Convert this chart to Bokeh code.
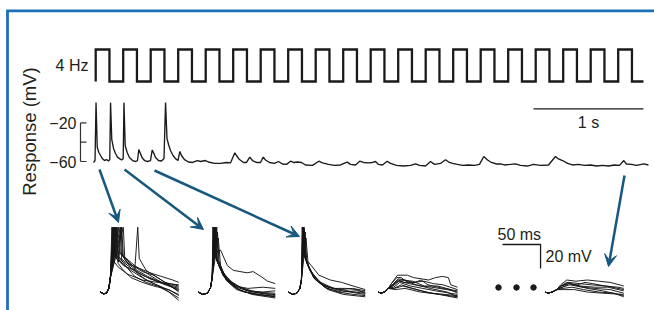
import numpy as np
from bokeh.plotting import figure
from bokeh.models import Range1d, Arrow, VeeHead
from bokeh.core.properties import value
from bokeh.embed import file_html
from bokeh.resources import INLINE

# ------------------------------------------------------------------ data
STIM_LABEL = "4 Hz"
STIM_FREQ_HZ = 4
STIM_CYCLES = 20
STIM_START_S = 0.02
STIM_END_S = 5.0

Y_LABEL = "Response (mV)"
AXIS_TICKS_MV = [-60, -40, -20]
AXIS_TICK_LABELS = ["\u221260", "", "\u221220"]
TIME_SCALE_S = 1.0
TIME_SCALE_LABEL = "1 s"
INSET_SCALE_MS = 50
INSET_SCALE_MV = 20
INSET_SCALE_LABELS = ["50 ms", "20 mV"]

# main recording: (time s, membrane potential mV)
MAIN_TRACE = [
    (0.000, -61), (0.014, -59), (0.023, 1), (0.034, -45.2), (0.048, -50.4), (0.064, -53.8),
    (0.082, -57.2), (0.100, -59), (0.118, -58), (0.136, -59.5), (0.148, -58), (0.155, 1),
    (0.166, -37), (0.182, -46.5), (0.200, -51.7), (0.218, -55.5), (0.236, -57), (0.255, -58.4),
    (0.270, -57), (0.277, 1), (0.288, -43.4), (0.306, -50.7), (0.327, -55.9), (0.355, -59),
    (0.382, -60), (0.400, -59), (0.412, -47.6), (0.423, -50.7), (0.441, -55.9), (0.464, -59),
    (0.491, -60), (0.518, -59), (0.534, -48), (0.545, -50.7), (0.564, -55.9), (0.591, -59),
    (0.618, -59.5), (0.641, -57), (0.655, 1), (0.668, -36), (0.682, -42.4), (0.700, -48.6),
    (0.723, -53.8), (0.745, -57), (0.768, -59), (0.785, -49.6), (0.800, -53.8), (0.827, -58),
    (0.864, -60.5), (0.900, -61), (0.945, -59), (0.973, -60), (1.018, -59), (1.045, -60.5),
    (1.100, -62), (1.155, -62), (1.209, -61), (1.245, -61.5), (1.285, -51), (1.300, -53.8),
    (1.327, -58), (1.364, -61), (1.391, -61), (1.421, -55.5), (1.445, -59), (1.482, -61),
    (1.518, -61), (1.543, -55.5), (1.564, -58.4), (1.600, -61), (1.645, -62), (1.682, -60),
    (1.718, -62.6), (1.755, -63), (1.791, -59.7), (1.818, -61), (1.855, -60.5), (1.891, -61),
    (1.927, -63.6), (1.991, -64), (2.048, -59.7), (2.082, -61.5), (2.136, -63), (2.191, -64),
    (2.245, -63.6), (2.306, -60.7), (2.336, -63), (2.382, -63.6), (2.420, -59.7), (2.455, -61),
    (2.500, -61.5), (2.536, -61), (2.564, -60), (2.591, -63), (2.627, -63.6), (2.670, -59.7),
    (2.700, -62), (2.755, -64), (2.818, -64.7), (2.882, -64), (2.927, -62.4), (2.964, -64),
    (3.018, -64.7), (3.064, -60), (3.100, -63), (3.155, -62), (3.200, -58.2), (3.236, -61),
    (3.264, -62), (3.309, -63), (3.355, -64), (3.409, -63.6), (3.464, -64), (3.509, -63),
    (3.548, -54.8), (3.582, -58.4), (3.618, -61), (3.664, -62.6), (3.700, -62.4), (3.736, -63.6),
    (3.791, -63), (3.836, -62.4), (3.882, -64), (3.945, -64.7), (4.000, -63), (4.064, -64),
    (4.136, -63.6), (4.200, -54.8), (4.227, -57.4), (4.264, -59), (4.309, -62), (4.355, -63.6),
    (4.409, -63), (4.464, -64), (4.518, -63.6), (4.573, -64.7), (4.627, -64), (4.682, -64.7),
    (4.736, -63.6), (4.782, -64), (4.821, -59), (4.845, -62.6), (4.891, -63), (4.936, -64),
    (5.003, -62.4), (5.045, -63.6),
]

# inset sweeps: (time ms, mV); onset shared by the sweeps of a panel
INSET1_ONSET = [(0, -60), (4, -61.5), (8, -61), (11, -57), (13, -48)]
INSET1 = [
    [(16, -6), (18, -28), (24, -31), (35, -36), (50, -40), (65, -44), (80, -47), (95, -50), (103, -52)],
    [(18, -6), (20, -30), (26, -33), (40, -40), (55, -46), (70, -50), (85, -54), (103, -57)],
    [(20, -6), (22, -26), (28, -29), (40, -37), (55, -43), (70, -46), (85, -52), (103, -55)],
    [(22, -6), (24, -33), (30, -37), (40, -42), (55, -48), (70, -53), (85, -57), (103, -62)],
    [(24, -6), (26, -28), (32, -31), (45, -38), (60, -44), (75, -50), (90, -55), (103, -58)],
    [(17, -6), (19, -30), (24, -35), (27, -6), (29, -30), (40, -40), (60, -50), (80, -56), (103, -65)],
    [(19, -6), (21, -32), (30, -38), (45, -42), (49, -6), (51, -32), (60, -42), (75, -48), (90, -54), (103, -60)],
    [(26, -6), (28, -34), (34, -39), (45, -47), (60, -52), (75, -55), (90, -60), (103, -67)],
    [(28, -6), (30, -30), (36, -34), (48, -42), (62, -47), (80, -52), (103, -56)],
    [(21, -6), (23, -36), (29, -41), (40, -48), (55, -52), (70, -55), (90, -58), (103, -63)],
    [(30, -6), (32, -33), (38, -37), (50, -44), (65, -49), (85, -53), (103, -59)],
    [(15, -6), (17, -34), (23, -39), (35, -45), (55, -50), (75, -52), (103, -54)],
]
INSET2_ONSET = [(0, -60), (5, -62), (12, -61), (16, -56), (18, -48)]
INSET2 = [
    [(19, -6), (21, -28), (28, -40), (40, -50), (55, -56), (70, -59), (85, -61), (101, -62)],
    [(20, -6), (22, -30), (30, -42), (45, -53), (60, -58), (80, -61), (101, -63)],
    [(21, -6), (23, -27), (29, -25), (38, -38), (46, -42), (64, -44), (72, -43), (82, -47), (91, -51), (101, -53)],
    [(22, -6), (24, -32), (32, -46), (45, -55), (60, -60), (80, -62), (101, -64)],
    [(23, -6), (25, -35), (33, -47), (48, -55), (65, -57), (85, -56), (101, -57)],
    [(24, -6), (26, -33), (35, -48), (50, -57), (70, -62), (101, -65)],
    [(19.5, -6), (22, -30), (27, -38), (36, -49), (50, -56), (70, -60), (101, -61)],
    [(25, -10), (27, -35), (36, -50), (50, -58), (70, -61), (90, -63), (101, -62)],
    [(21.5, -6), (24, -34), (32, -45), (48, -54), (65, -59), (85, -60), (101, -59)],
    [(26, -15), (29, -38), (38, -51), (55, -59), (75, -62), (101, -64)],
]
INSET3_ONSET = [(0, -60), (5, -62), (11, -61), (15, -57), (17, -50)]
INSET3 = [
    [(18, -6), (20, -28), (27, -40), (38, -50), (52, -56), (70, -58), (85, -60), (101, -61)],
    [(19, -6), (21, -30), (30, -44), (45, -54), (62, -58), (80, -60), (101, -62)],
    [(20, -6), (22, -32), (30, -38), (40, -46), (55, -50), (70, -52), (85, -55), (101, -58)],
    [(21, -8), (23, -34), (33, -48), (48, -56), (65, -60), (85, -62), (101, -63)],
    [(22, -10), (24, -36), (34, -49), (50, -57), (70, -60), (90, -59), (101, -60)],
    [(18.5, -6), (21, -30), (28, -42), (42, -52), (60, -57), (75, -57), (90, -58), (101, -61)],
    [(23, -15), (26, -38), (36, -50), (52, -58), (72, -62), (101, -64)],
    [(20.5, -6), (23, -33), (32, -46), (46, -55), (66, -58), (84, -57), (101, -59)],
]
INSET4_ONSET = [(0, -60), (3, -61), (8, -60), (13, -57)]
INSET4 = [
    [(18, -52), (25, -46), (38, -46), (46, -48), (66, -50), (75, -48), (84, -47), (92, -48), (95, -54), (104, -56)],
    [(18, -54), (26, -49), (35, -50), (45, -52), (60, -51), (72, -53), (85, -54), (104, -58)],
    [(19, -55), (27, -51), (40, -53), (55, -55), (70, -56), (90, -58), (104, -60)],
    [(20, -56), (28, -52), (42, -55), (58, -57), (75, -59), (104, -62)],
    [(17, -53), (24, -48), (30, -48), (36, -51), (50, -54), (68, -57), (90, -60), (104, -64)],
    [(20, -57), (30, -54), (45, -57), (62, -60), (80, -62), (104, -65)],
    [(18, -55), (26, -50), (34, -52), (48, -52), (56, -50), (65, -54), (85, -57), (104, -59)],
    [(21, -57), (32, -55), (50, -58), (70, -61), (104, -63)],
    [(19, -54), (28, -50), (45, -51), (60, -55), (78, -55), (95, -58), (104, -61)],
    [(22, -58), (35, -57), (55, -60), (80, -62), (104, -64)],
]
INSET5_ONSET = [(0, -60), (3, -61), (9, -60), (15, -58)]
INSET5 = [
    [(20, -54), (28, -50), (40, -51), (55, -50), (70, -51), (85, -52), (103, -55)],
    [(21, -55), (30, -52), (45, -53), (60, -54), (80, -55), (103, -58)],
    [(22, -56), (32, -54), (48, -56), (65, -57), (85, -58), (103, -61)],
    [(20, -55), (28, -52), (38, -54), (55, -57), (75, -59), (103, -63)],
    [(23, -57), (35, -56), (50, -58), (70, -60), (90, -61), (103, -64)],
    [(21, -55), (30, -53), (42, -54), (52, -52), (62, -53), (78, -55), (95, -56), (103, -57)],
    [(24, -58), (38, -58), (55, -60), (75, -61), (103, -62)],
    [(22, -56), (31, -53), (46, -55), (64, -56), (82, -56), (103, -59)],
]
INSETS = [(INSET1_ONSET, INSET1), (INSET2_ONSET, INSET2), (INSET3_ONSET, INSET3),
          (INSET4_ONSET, INSET4), (INSET5_ONSET, INSET5)]

# ------------------------------------------------------------------ layout / style
W, H = 654, 310
PAGE_X0, PAGE_Y0 = 0, 0
FONT = value("Liberation Sans")
TXT = "#231f20"
FRAME_BLUE = "#1f6fb4"
ARROW_BLUE = "#17587e"

# main trace placement: 0 s at page x 93, 110 px/s ; -60 mV at page y 161, 0.965 px/mV
MX0 = -(93 - PAGE_X0) / 110.0
MX1 = MX0 + W / 110.0
MY1 = -60 + (161 - PAGE_Y0) / 0.965
MY0 = MY1 - H / 0.965

p = figure(width=W, height=H, output_backend="svg", toolbar_location=None,
           x_range=Range1d(MX0, MX1), y_range=Range1d(MY0, MY1),
           x_axis_location=None, y_axis_location=None, min_border=0)
p.grid.visible = False
p.outline_line_color = None
p.background_fill_color = "white"
p.border_fill_color = "white"

# page-pixel ranges for decorations
p.extra_x_ranges["px"] = Range1d(PAGE_X0, PAGE_X0 + W)
p.extra_y_ranges["py"] = Range1d(PAGE_Y0 + H, PAGE_Y0)
# stimulus range: 0 -> page y 81, 1 -> page y 49
p.extra_y_ranges["stim"] = Range1d(-(PAGE_Y0 + H - 81) / 32.0, 1 + (49 - PAGE_Y0) / 32.0)
# inset ranges: 0.76 px/ms, 1.2 px/mV, -60 mV at page y 291.5
IY1 = -60 + (291.5 - PAGE_Y0) / 1.2
p.extra_y_ranges["inset"] = Range1d(IY1 - H / 1.2, IY1)
INSET_LEFT = [100, 198, 288, 378, 545]
for i, left in enumerate(INSET_LEFT):
    s = -(left - PAGE_X0) / 0.76
    p.extra_x_ranges[f"in{i+1}"] = Range1d(s, s + W / 0.76)

# blue frame
p.line([7, 7, PAGE_X0 + W], [PAGE_Y0 + H, 10.3, 10.3], x_range_name="px", y_range_name="py",
       line_width=2.8, color=FRAME_BLUE, line_join="miter")

# stimulus square wave
period = 1.0 / STIM_FREQ_HZ
sx, sy = [STIM_START_S], [0]
for k in range(STIM_CYCLES):
    on = STIM_START_S + k * period
    off = on + period / 2
    sx += [on, on, off, off]
    sy += [0, 1, 1, 0]
sx.append(STIM_END_S)
sy.append(0)
p.line(sx, sy, y_range_name="stim", line_width=2.3, color="#1a1a1a", line_join="miter")
p.text(x=[88], y=[65], text=[STIM_LABEL], x_range_name="px", y_range_name="py",
       text_font=FONT, text_font_size=value("16px"), text_color=TXT,
       text_align="right", text_baseline="middle")

# main trace
mt, mv = zip(*MAIN_TRACE)
p.line(list(mt), list(mv), line_width=1.35, color="#1a1a1a")

# y bracket axis
p.line([80, 80], [AXIS_TICKS_MV[0], AXIS_TICKS_MV[-1]], x_range_name="px", line_width=1.2, color="#333333")
p.segment(x0=[80] * 3, x1=[86] * 3, y0=AXIS_TICKS_MV, y1=AXIS_TICKS_MV, x_range_name="px",
          line_width=1.2, color="#333333")
p.text(x=[76] * 3, y=AXIS_TICKS_MV, text=AXIS_TICK_LABELS, x_range_name="px",
       text_font=FONT, text_font_size=value("16px"), text_color=TXT,
       text_align="right", text_baseline="middle")
p.text(x=[29], y=[131], text=[Y_LABEL], angle=np.pi / 2, x_range_name="px", y_range_name="py",
       text_font=FONT, text_font_size=value("18.5px"), text_color=TXT,
       text_align="center", text_baseline="middle")

# 1 s scale bar
p.line([4.0, 4.0 + TIME_SCALE_S], [-5.4, -5.4], line_width=1.3, color="#1a1a1a")
p.text(x=[4.0 + TIME_SCALE_S / 2], y=[122], text=[TIME_SCALE_LABEL], y_range_name="py",
       text_font=FONT, text_font_size=value("16px"), text_color=TXT,
       text_align="center", text_baseline="middle")

# inset sweeps
for i, (onset, sweeps) in enumerate(INSETS):
    xs, ys = [], []
    for sw in sweeps:
        pts = onset + sw
        xs.append([q[0] for q in pts])
        ys.append([q[1] for q in pts])
    p.multi_line(xs, ys, x_range_name=f"in{i+1}", y_range_name="inset",
                 line_width=0.95, color="#151515")

# inset scale bar (drawn in panel-5 coordinates)
cx, cy = -6.5, -20.4
p.line([cx - INSET_SCALE_MS, cx, cx], [cy, cy, cy - INSET_SCALE_MV], x_range_name="in5",
       y_range_name="inset", line_width=1.3, color="#1a1a1a", line_join="miter")
p.text(x=[497, 545], y=[234, 256], text=INSET_SCALE_LABELS, x_range_name="px", y_range_name="py",
       text_font=FONT, text_font_size=value("16px"), text_color=TXT,
       text_align="left", text_baseline="middle")

# ellipsis dots
p.scatter(x=[498, 516, 533], y=[287, 287, 287], x_range_name="px", y_range_name="py",
          size=5.5, color="#1a1a1a")

# arrows
ARROWS = [((99, 169), (118, 222)), ((124, 169), (203, 229)),
          ((154, 170), (299, 236)), ((624, 175), (608, 266))]
for (x0, y0), (x1, y1) in ARROWS:
    p.add_layout(Arrow(end=VeeHead(size=12, fill_color=ARROW_BLUE, line_color=ARROW_BLUE, line_width=1),
                       x_start=x0, y_start=y0, x_end=x1, y_end=y1,
                       x_range_name="px", y_range_name="py",
                       line_color=ARROW_BLUE, line_width=2.5))

open("out.html", "w").write(file_html(p, INLINE))
